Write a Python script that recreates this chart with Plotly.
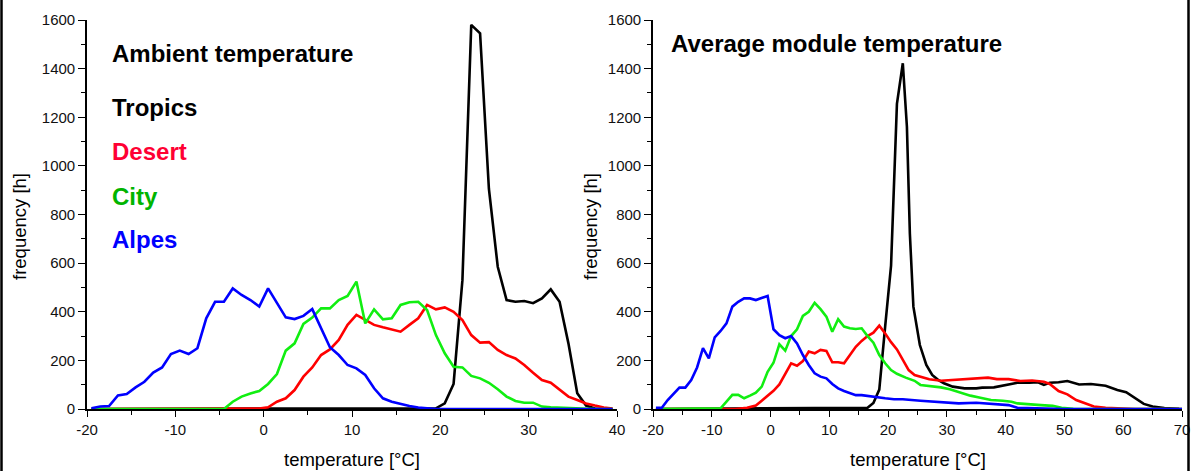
import plotly.graph_objects as go

# ---------------- Left panel: ambient temperature (1 °C bins) ----------------
amb_temp = [t + 0.5 for t in range(-20, 40)]  # bin centres -19.5 .. 39.5

amb_alpes = [3, 10, 12, 56, 62, 89, 112, 150, 171, 226, 240, 226, 250, 373, 441, 441,
             496, 469, 448, 421, 496, 437, 377, 370, 383, 411, 332, 254, 222, 181,
             167, 140, 85, 44, 30, 20, 12, 6, 2,
             0, 0, 0, 0, 0, 0, 0, 0, 0, 0, 0, 0, 0, 0, 0, 0, 0, 0, 0, 0, 0]
amb_city = [0, 0, 0, 0, 0, 0, 0, 0, 0, 0, 0, 0, 0, 0, 0, 0,
            30, 51, 64, 74, 103, 144, 240, 270, 350, 376, 414, 414, 448, 465, 524,
            352, 410, 369, 373, 428, 439, 441, 407, 304, 229, 174, 171, 136, 126, 108,
            81, 51, 33, 26, 26, 10, 7, 5, 3, 2, 1, 0, 0, 0]
amb_desert = [0, 0, 0, 0, 0, 0, 0, 0, 0, 0, 0, 0, 0, 0, 0, 0, 0, 0, 0,
              2, 7, 30, 44, 78, 133, 171, 222, 245, 284, 346, 387, 366, 346, 336, 328,
              318, 346, 373, 428, 410, 418, 400, 366, 304, 273, 275, 243, 222, 208, 181,
              149, 119, 108, 78, 51, 37, 23, 14, 6, 2]
amb_tropics = [0] * 39 + [3, 23, 103, 530, 1580, 1545, 905, 585, 448, 441, 444, 435,
                          455, 492, 441, 270, 65, 14, 2, 0, 0]

# ---------------- Right panel: average module temperature ----------------
mod_alpes_x = [-19.5, -18.5, -17.5, -16.5, -15.5, -14.5, -13.5, -12.5, -11.5, -10.5, -9.5,
               -8.5, -7.5, -6.5, -5.5, -4.5, -3.5, -2.5, -1.5, -0.5, 0.5, 1.5, 2.5, 3.5,
               4.5, 5.5, 6.5, 7.5, 8.5, 9.5, 10.5, 11.5, 12.5, 13.5, 14.5, 15.5, 16.5,
               17.5, 18.5, 19.5, 21, 22.5, 25.5, 28.5, 32, 35, 38, 40.5, 42, 44, 47, 50, 70]
mod_alpes_y = [5, 5, 37, 64, 88, 88, 119, 171, 250, 208, 295, 321, 352, 421, 441, 455, 455,
               448, 455, 465, 328, 304, 291, 300, 270, 222, 181, 147, 133, 126, 103, 85,
               74, 64, 57, 57, 53, 51, 48, 44, 40, 40, 34, 30, 23, 26, 21, 16, 5, 3, 1, 0, 0]

mod_city_x = [-19.5, -9.5, -8.5, -7.5, -6.5, -5.5, -4.5, -3.5, -2.5, -1.5, -0.5, 0.5, 1.5,
              2.5, 3.5, 4.5, 5.5, 6.5, 7.5, 8.5, 9.5, 10.5, 11.5, 12.5, 13.5, 14.5, 15.5,
              16.5, 17.5, 18.5, 19.5, 20.5, 21.5, 23, 24.5, 25.5, 27.5, 29, 30.5, 32, 34,
              35.5, 37.5, 39.5, 41, 42, 44, 46, 48, 49.5, 51.5, 53, 70]
mod_city_y = [0, 0, 3, 30, 58, 58, 44, 55, 67, 92, 153, 190, 266, 240, 300, 328, 383, 400,
              437, 411, 380, 318, 369, 339, 332, 329, 332, 300, 273, 222, 188, 160, 145,
              129, 116, 99, 95, 89, 81, 69, 55, 47, 37, 34, 30, 23, 21, 16, 13, 5, 1, 0, 0]

mod_desert_x = [-19.5, -6, -4, -2.5, -1.5, -0.5, 0.5, 1.5, 2.5, 3.5, 4.5, 5.5, 6.5, 7.5,
                8.5, 9.5, 10.5, 11.5, 12.5, 13.5, 14.5, 15.5, 16.5, 17.5, 18.5, 19.5, 20.5,
                21.5, 22.5, 23.5, 24.5, 25.5, 27, 29, 30.5, 33, 34.5, 37, 38.5, 40.5, 42.5,
                44.5, 46.5, 47.5, 49, 50.5, 52, 54, 55, 57, 60.5, 62, 70]
mod_desert_y = [0, 0, 5, 14, 34, 55, 75, 101, 143, 188, 178, 197, 236, 229, 243, 239, 192,
                192, 188, 222, 256, 280, 300, 314, 343, 311, 275, 245, 200, 160, 140, 133,
                122, 116, 119, 123, 126, 129, 123, 123, 115, 117, 112, 103, 74, 60, 37, 21,
                10, 5, 2, 0, 0]

mod_tropics_x = [-19.5, 15.5, 16.5, 17.5, 18.5, 19.5, 20.5, 21.5, 22.5, 23.2, 23.7, 24.3,
                 25.4, 26.5, 27.5, 28.5, 29.5, 31, 33, 35, 36, 38, 40, 42, 44, 45.5, 46.5,
                 47.5, 49, 50.5, 52.5, 54.5, 57, 59, 60.5, 62, 63.5, 65, 67, 69.5]
mod_tropics_y = [0, 2, 5, 25, 80, 340, 590, 1255, 1422, 1160, 722, 421, 263, 181, 140,
                 120, 106, 92, 85, 85, 88, 89, 99, 108, 108, 110, 99, 108, 110, 115, 101,
                 103, 96, 78, 69, 44, 21, 10, 4, 1]

# tick labels (plain hyphen minus, as in the original)
x1_ticks = [-20, -10, 0, 10, 20, 30, 40]
x2_ticks = [-20, -10, 0, 10, 20, 30, 40, 50, 60, 70]
y_ticks = [0, 200, 400, 600, 800, 1000, 1200, 1400, 1600]

# ---------------- styling ----------------
FONT = "Liberation Sans, Arial, sans-serif"
C_TROP, C_DES, C_CITY, C_ALP = "#000000", "#ff0000", "#11ee11", "#0000ff"
W, H = 1192, 471

fig = go.Figure()

def add(x, y, color, ax):
    fig.add_trace(go.Scatter(x=x, y=y, mode="lines", line=dict(color=color, width=2.6),
                             xaxis="x" if ax == 1 else "x2",
                             yaxis="y" if ax == 1 else "y2",
                             showlegend=False, hoverinfo="skip"))

add(amb_temp, amb_tropics, C_TROP, 1)
add(amb_temp, amb_desert, C_DES, 1)
add(amb_temp, amb_city, C_CITY, 1)
add(amb_temp, amb_alpes, C_ALP, 1)
add(mod_tropics_x, mod_tropics_y, C_TROP, 2)
add(mod_desert_x, mod_desert_y, C_DES, 2)
add(mod_city_x, mod_city_y, C_CITY, 2)
add(mod_alpes_x, mod_alpes_y, C_ALP, 2)

def px_x(p):
    return p / W

def px_y(p):
    return 1 - p / H

def axis(ticks, rng, dom, anchor, minor_dtick, ticklen):
    return dict(domain=dom, range=rng, anchor=anchor, tickmode="array",
                tickvals=ticks, ticktext=[str(t) for t in ticks],
                showline=True, linecolor="black", linewidth=1.6, ticks="outside",
                ticklen=ticklen, tickwidth=1.4, tickcolor="black", showgrid=False,
                zeroline=False, automargin=False, fixedrange=True,
                tickfont=dict(family=FONT, size=15, color="#111"),
                minor=dict(dtick=minor_dtick, tick0=0, ticklen=4, ticks="outside",
                           tickcolor="black", tickwidth=1.4, showgrid=False))

ydom = [px_y(409), px_y(20)]
fig.update_layout(
    width=W, height=H, margin=dict(l=0, r=0, t=0, b=0, pad=0, autoexpand=False),
    paper_bgcolor="white", plot_bgcolor="white",
    xaxis=axis(x1_ticks, [-20, 40], [px_x(87), px_x(617)], "y", 5, 6),
    yaxis=axis(y_ticks, [0, 1600], ydom, "x", 100, 7),
    xaxis2=axis(x2_ticks, [-20, 70], [px_x(653), px_x(1182)], "y2", 5, 6),
    yaxis2=axis(y_ticks, [0, 1600], ydom, "x2", 100, 7),
)

annots = []

def txt(text, x, y, size=15, color="black", bold=False, angle=0, xanchor="center"):
    annots.append(dict(text=f"<b>{text}</b>" if bold else text, x=px_x(x), y=px_y(y),
                       xref="paper", yref="paper", showarrow=False, xanchor=xanchor,
                       yanchor="middle", textangle=angle, borderpad=0,
                       font=dict(family=FONT, size=size, color=color)))

# axis titles
txt("temperature [°C]", 352, 459, size=18.5)
txt("temperature [°C]", 918, 459, size=18.5)
txt("frequency [h]", 19, 227, size=18.5, angle=-90)
txt("frequency [h]", 590, 227, size=18.5, angle=-90)

# panel labels
LS = 24
txt("Ambient temperature", 111, 54, size=LS, bold=True, xanchor="left")
txt("Tropics", 111, 108, size=LS, bold=True, xanchor="left", color="black")
txt("Desert", 111, 152, size=LS, bold=True, xanchor="left", color="#ff0033")
txt("City", 111, 196, size=LS, bold=True, xanchor="left", color="#00b400")
txt("Alpes", 111, 239, size=LS, bold=True, xanchor="left", color="#0000ff")
txt("Average module temperature", 670, 44, size=LS, bold=True, xanchor="left")

fig.update_layout(annotations=annots)

# outer frame side lines
for xp in (1.5, 1188.5):
    fig.add_shape(type="line", xref="paper", yref="paper", x0=px_x(xp), x1=px_x(xp),
                  y0=0, y1=1, line=dict(color="black", width=2.5))

fig.write_html(
    "out.html",
    post_script="document.body.style.margin='0';document.body.style.padding='0';"
                "document.documentElement.style.overflow='hidden';"
                "document.body.style.overflow='hidden';",
)
